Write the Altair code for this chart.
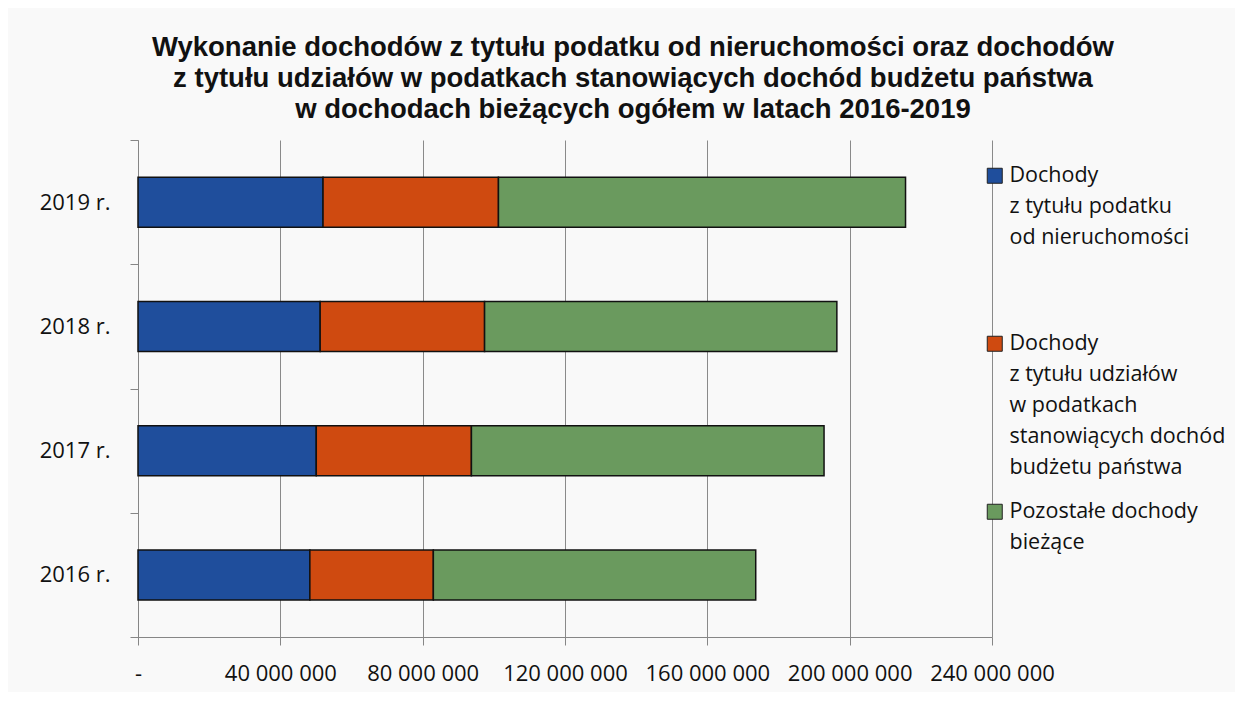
import altair as alt
import pandas as pd

years = ["2019 r.", "2018 r.", "2017 r.", "2016 r."]
series = [
    "Dochody|z tytułu podatku|od nieruchomości",
    "Dochody|z tytułu udziałów|w podatkach|stanowiących dochód|budżetu państwa",
    "Pozostałe dochody|bieżące",
]
colors = ["#1f4e9c", "#cf4a10", "#6a9a5e"]
podatek_nier = [52000000, 51200000, 50100000, 48300000]
udzialy = [49300000, 46200000, 43600000, 34700000]
pozostale = [114400000, 99000000, 99100000, 90600000]
x_ticks = [0, 40000000, 80000000, 120000000, 160000000, 200000000, 240000000]

rows = []
for i, y in enumerate(years):
    for k, vals in enumerate([podatek_nier, udzialy, pozostale]):
        rows.append({"rok": y, "seria": series[k], "wartosc": vals[i], "kol": k})
df = pd.DataFrame(rows)

title_lines = [
    "Wykonanie dochodów z tytułu podatku od nieruchomości oraz dochodów",
    "z tytułu udziałów w podatkach stanowiących dochód budżetu państwa",
    "w dochodach bieżących ogółem w latach 2016-2019",
]

chart = (
    alt.Chart(df)
    .mark_bar(stroke="#111111", strokeWidth=1.5, size=50)
    .encode(
        y=alt.Y(
            "rok:N",
            sort=years,
            title=None,
            scale=alt.Scale(paddingInner=0, paddingOuter=0),
            axis=alt.Axis(
                tickBand="extent",
                tickSize=8,
                tickColor="#868686",
                domainColor="#868686",
                labelFont="Open Sans",
                labelFontSize=22,
                labelColor="#111111",
                labelPadding=20,
                grid=False,
            ),
        ),
        x=alt.X(
            "sum(wartosc):Q",
            title=None,
            stack="zero",
            scale=alt.Scale(domain=[0, 240000000], nice=False),
            axis=alt.Axis(
                values=x_ticks,
                labelExpr="datum.value == 0 ? '-' : format(datum.value / 1000000, 'd') + ' 000 000'",
                tickSize=8,
                tickColor="#868686",
                domainColor="#868686",
                gridColor="#8a8a8a",
                gridWidth=1,
                labelFont="Open Sans",
                labelFontSize=22,
                labelColor="#111111",
                labelPadding=18,
                labelOverlap=False,
                labelFlush=False,
            ),
        ),
        color=alt.Color(
            "seria:N",
            sort=series,
            scale=alt.Scale(domain=series, range=colors),
            legend=alt.Legend(
                title=None,
                orient="none",
                legendX=846,
                legendY=25,
                padding=0,
                columns=1,
                gridAlign="all",
                rowPadding=21,
                symbolType="square",
                symbolSize=225,
                symbolStrokeColor="#222222",
                symbolStrokeWidth=1,
                labelFont="Open Sans",
                labelFontSize=21.5,
                labelColor="#111111",
                labelOffset=4,
                labelLimit=400,
                labelExpr="split(datum.label, '|')",
            ),
        ),
        order=alt.Order("kol:Q", sort="ascending"),
    )
    .properties(
        width=854,
        height=497,
        background="#f9f9f9",
        padding={"left": 130, "top": 132, "right": 243, "bottom": 55},
        autosize=alt.AutoSizeParams(type="none"),
        title=alt.TitleParams(
            text=title_lines,
            font="Liberation Sans",
            fontSize=27.5,
            fontWeight="bold",
            color="#111111",
            lineHeight=31,
            anchor="middle",
            frame="group",
            dx=68,
            offset=6,
        ),
    )
    .configure(style={"guide-label": {"lineHeight": 31}})
    .configure_view(stroke=None)
)

chart.save("out.html", embed_options={"renderer": "svg", "actions": False})
